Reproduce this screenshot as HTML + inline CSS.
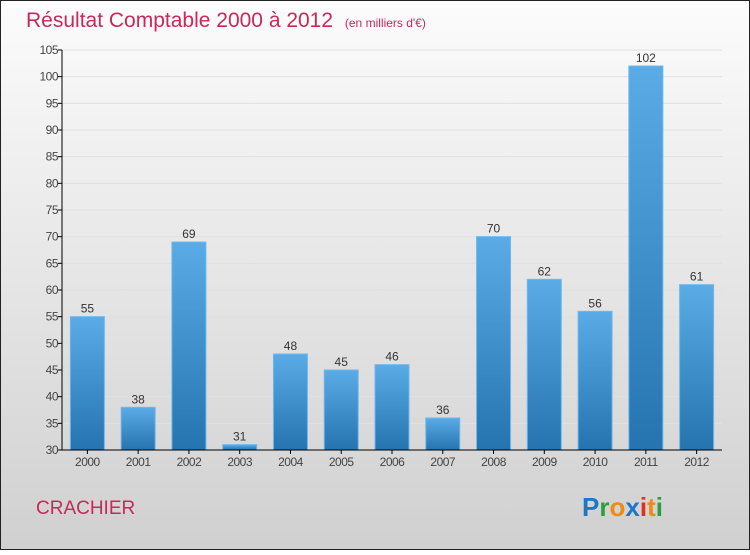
<!DOCTYPE html>
<html><head><meta charset="utf-8"><style>
body{margin:0;width:750px;height:550px;overflow:hidden;font-family:"Liberation Sans",sans-serif;}
</style></head><body>
<svg width="750" height="550" xmlns="http://www.w3.org/2000/svg">
<defs>
<linearGradient id="bg" x1="0" y1="0" x2="0" y2="1"><stop offset="0" stop-color="#fcfcfc"/><stop offset="1" stop-color="#d0d0d0"/></linearGradient>
<linearGradient id="bar" x1="0" y1="0" x2="0" y2="1"><stop offset="0" stop-color="#5aabe6"/><stop offset="1" stop-color="#2574b0"/></linearGradient>
</defs>
<rect x="0.5" y="0.5" width="749" height="549" fill="url(#bg)" stroke="#222"/>
<text x="26" y="27" font-size="21" fill="#c8285a">Résultat Comptable 2000 à 2012 <tspan font-size="12" dx="6">(en milliers d'€)</tspan></text>
<g id="grid"></g>
<g id="bars"></g>
<g id="axes"></g>
<text x="36" y="514" font-size="19" fill="#c8285a">CRACHIER</text>
<text x="582" y="516" font-size="26" font-weight="bold"><tspan fill="#1a78cc">P</tspan><tspan fill="#2aa040">r</tspan><tspan fill="#f08a10">o</tspan><tspan fill="#1a78cc">x</tspan><tspan fill="#e03020">i</tspan><tspan fill="#f08a10">t</tspan><tspan fill="#2aa040">i</tspan></text>
</svg>
<script>
const categories=["2000","2001","2002","2003","2004","2005","2006","2007","2008","2009","2010","2011","2012"];
const values=[55,38,69,31,48,45,46,36,70,62,56,102,61];
const ticks=[30,35,40,45,50,55,60,65,70,75,80,85,90,95,100,105];
const NS="http://www.w3.org/2000/svg";
const x0=62,x1=722,yTop=50,yBot=450,vMin=30,vMax=105;
const band=(x1-x0)/categories.length;
function y(v){return yBot-(v-vMin)/(vMax-vMin)*(yBot-yTop);}
function xc(i){return x0+band*(i+0.5);}
function mk(t,a,p){const e=document.createElementNS(NS,t);for(const k in a)e.setAttribute(k,a[k]);p.appendChild(e);return e;}
const grid=document.getElementById('grid'),bars=document.getElementById('bars'),axes=document.getElementById('axes');
ticks.forEach(t=>{
 const l=mk('line',{x1:x0,x2:x1,y1:y(t),y2:y(t),stroke:'#e0e0e0','stroke-width':1},grid);
 
 
 const tk=mk('line',{x1:x0-4,x2:x0,y1:y(t),y2:y(t),stroke:'#000'},axes);
 
 
 const tx=mk('text',{x:x0-4,y:y(t)+4,'font-size':12,fill:'#444','text-anchor':'end','letter-spacing':'-0.5'},axes);
 tx.textContent=t;
 
 
});
categories.forEach((c,i)=>{
 const v=values[i],w=34;
 const r=mk('rect',{x:xc(i)-w/2,y:y(v),width:w,height:yBot-y(v),fill:'url(#bar)',stroke:'#6cb8ee','stroke-width':1},bars);
 
 
 const vl=mk('text',{x:xc(i),y:y(v)-4,'font-size':12,fill:'#333','text-anchor':'middle'},bars);
 vl.textContent=v;
 
 
 const tk=mk('line',{x1:xc(i),x2:xc(i),y1:yBot,y2:yBot+4,stroke:'#000'},axes);
 
 
 const xl=mk('text',{x:xc(i),y:yBot+16,'font-size':12,fill:'#444','text-anchor':'middle','letter-spacing':'-0.5'},axes);
 xl.textContent=c;
 
 
});
const ya=mk('line',{x1:x0,x2:x0,y1:yTop,y2:yBot,stroke:'#000'},axes);


const xa=mk('line',{x1:x0,x2:x1,y1:yBot,y2:yBot,stroke:'#000'},axes);


</script>
</body></html>
